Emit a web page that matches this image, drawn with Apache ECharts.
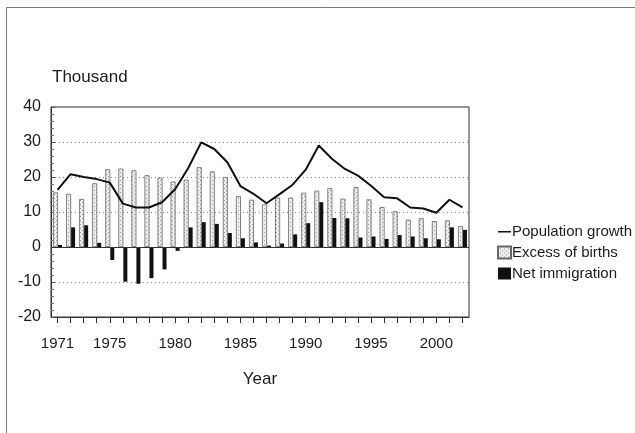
<!DOCTYPE html>
<html>
<head>
<meta charset="utf-8">
<script src="https://cdn.jsdelivr.net/npm/echarts@6/dist/echarts.min.js"></script>
<style>
  html, body { margin: 0; padding: 0; background: #fff; }
  #chart { width: 635px; height: 433px; }
</style>
</head>
<body>
<div id="chart"></div>
<script>
// Population change, thousand persons per year
const years = [
  '1971','1972','1973','1974','1975','1976','1977','1978','1979','1980',
  '1981','1982','1983','1984','1985','1986','1987','1988','1989','1990',
  '1991','1992','1993','1994','1995','1996','1997','1998','1999','2000',
  '2001','2002'
];
const populationGrowth = [
  16.3, 20.8, 20.0, 19.4, 18.4, 12.4, 11.3, 11.3, 12.8, 16.5,
  22.5, 29.9, 28.0, 24.2, 17.4, 15.2, 12.5, 15.1, 17.8, 22.1,
  29.0, 25.2, 22.3, 20.4, 17.5, 14.2, 13.9, 11.3, 11.0, 9.8,
  13.5, 11.3
];
const excessOfBirths = [
  15.6, 15.2, 13.7, 18.2, 22.2, 22.4, 21.9, 20.5, 19.8, 18.7,
  19.2, 22.8, 21.6, 20.0, 14.5, 13.5, 12.2, 14.1, 14.1, 15.5,
  16.1, 16.8, 13.8, 17.1, 13.6, 11.4, 10.2, 7.8, 8.2, 7.4,
  7.6, 6.0
];
const netImmigration = [
  0.6, 5.6, 6.2, 1.2, -3.7, -9.9, -10.5, -8.9, -6.4, -1.1,
  5.6, 7.1, 6.6, 4.0, 2.5, 1.3, 0.4, 1.0, 3.6, 6.8,
  12.8, 8.3, 8.2, 2.7, 3.0, 2.3, 3.4, 3.0, 2.5, 2.2,
  5.6, 4.9
];
const yTicks = { min: -20, max: 40, step: 10 };

// stippled fill for the births bars
function stipple() {
  const c = document.createElement('canvas');
  c.width = 4; c.height = 4;
  const g = c.getContext('2d');
  g.fillStyle = '#ededed';
  g.fillRect(0, 0, 4, 4);
  g.fillStyle = '#9a9a9a';
  g.fillRect(0, 0, 1, 1);
  g.fillRect(2, 2, 1, 1);
  return { image: c, repeat: 'repeat' };
}

const sans = '"Liberation Sans", Arial, sans-serif';
const ink = '#1c1c1c';

const chart = echarts.init(document.getElementById('chart'), null, { renderer: 'canvas' });

chart.setOption({
  animation: false,
  backgroundColor: '#fff',
  graphic: [
    {
      type: 'rect', silent: true, z: -10,
      shape: { x: 6.5, y: 7.5, width: 700, height: 500 },
      style: { fill: 'none', stroke: '#7a7a7a', lineWidth: 1 }
    },
    {
      type: 'text', left: 52, top: 69,
      style: { text: 'Thousand', font: '17px ' + sans, fill: ink }
    }
  ],
  grid: {
    left: 51, right: 166, top: 107, bottom: 116,
    show: true, borderColor: '#333', borderWidth: 1, backgroundColor: 'transparent'
  },
  legend: {
    orient: 'vertical',
    left: 497, top: 224,
    padding: 0,
    itemWidth: 13, itemHeight: 12, itemGap: 6,
    textStyle: { fontFamily: sans, fontSize: 15, lineHeight: 15, color: ink, padding: [0, 0, 0, -4] },
    data: [
      { name: 'Population growth', icon: 'path://M0,0L0.01,0M0,5.4H13V6.9H0ZM0,12L0.01,12', itemStyle: { color: '#111', borderWidth: 0 } },
      { name: 'Excess of births', icon: 'rect' },
      { name: 'Net immigration', icon: 'rect' }
    ]
  },
  xAxis: {
    type: 'category',
    data: years,
    boundaryGap: true,
    name: 'Year',
    nameLocation: 'middle',
    nameGap: 54,
    nameTextStyle: { fontFamily: sans, fontSize: 17, color: ink },
    axisLine: { onZero: false, lineStyle: { color: '#333', width: 1 } },
    axisTick: { show: true, interval: 0, alignWithLabel: true, length: 6, lineStyle: { color: '#333' } },
    axisLabel: {
      interval: (i, v) => i === 0 || Number(v) % 5 === 0,
      fontFamily: sans, fontSize: 15, color: ink, margin: 19
    },
    splitLine: { show: false }
  },
  yAxis: {
    type: 'value',
    min: yTicks.min, max: yTicks.max, interval: yTicks.step,
    axisLine: { show: true, lineStyle: { color: '#333', width: 1 } },
    axisTick: { show: true, inside: true, length: 4, lineStyle: { color: '#555' } },
    minorTick: { show: true, splitNumber: 5, length: 3, lineStyle: { color: '#777' } },
    axisLabel: { fontFamily: sans, fontSize: 16, color: ink, margin: 10 },
    splitLine: { show: true, lineStyle: { color: '#8a8a8a', type: [1, 3], width: 1 } }
  },
  series: [
    {
      name: 'Excess of births',
      type: 'bar',
      data: excessOfBirths,
      barWidth: 5,
      barGap: '0%',
      itemStyle: { color: stipple(), borderColor: '#666', borderWidth: 0.8 },
      markLine: {
        silent: true, symbol: 'none', label: { show: false },
        lineStyle: { color: '#333', type: 'solid', width: 1 },
        data: [{ yAxis: 0 }]
      },
      z: 2
    },
    {
      name: 'Net immigration',
      type: 'bar',
      data: netImmigration,
      barWidth: 4,
      itemStyle: { color: '#111' },
      z: 2
    },
    {
      name: 'Population growth',
      type: 'line',
      data: populationGrowth,
      showSymbol: false,
      symbol: 'none',
      lineStyle: { color: '#111', width: 2 },
      itemStyle: { color: '#111' },
      z: 5
    }
  ]
});
</script>
</body>
</html>
